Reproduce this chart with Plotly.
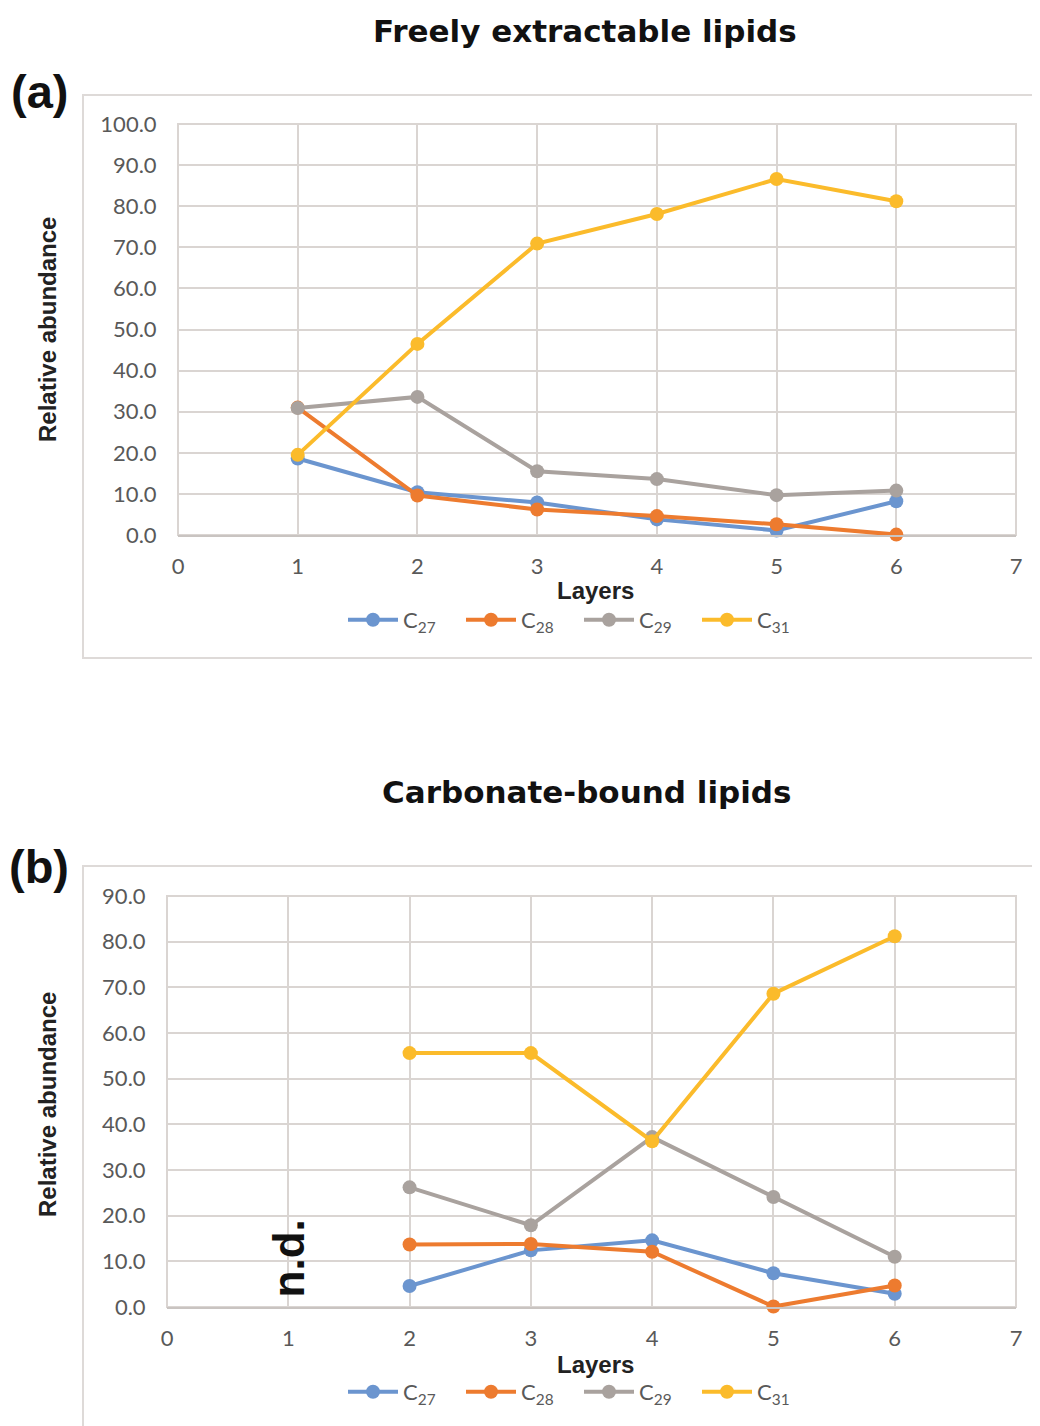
import plotly.graph_objects as go

W, H = 1040, 1426
OFF = 8  # page body margin

series_names = ["C<sub>27</sub>", "C<sub>28</sub>", "C<sub>29</sub>", "C<sub>31</sub>"]
colors = ["#6b95cf", "#ed7b2f", "#a9a29e", "#fbbb2b"]

layers_a = [1, 2, 3, 4, 5, 6]
c27_a = [18.6, 10.4, 7.9, 3.8, 1.1, 8.2]
c28_a = [31.0, 9.6, 6.2, 4.6, 2.6, 0.1]
c29_a = [30.9, 33.6, 15.5, 13.6, 9.7, 10.8]
c31_a = [19.5, 46.5, 70.9, 78.1, 86.6, 81.2]

layers_b = [2, 3, 4, 5, 6]
c27_b = [4.6, 12.4, 14.6, 7.4, 2.9]
c28_b = [13.7, 13.8, 12.1, 0.1, 4.7]
c29_b = [26.2, 17.9, 37.2, 24.1, 11.0]
c31_b = [55.6, 55.6, 36.3, 68.6, 81.2]

x_ticks = [0, 1, 2, 3, 4, 5, 6, 7]
y_ticks_a = [0, 10, 20, 30, 40, 50, 60, 70, 80, 90, 100]
y_ticks_b = [0, 10, 20, 30, 40, 50, 60, 70, 80, 90]


def px_x(p):
    return (p - OFF) / W


def px_y(p):
    return 1 - (p - OFF) / H


fig = go.Figure()

for name, col, ys in zip(series_names, colors, [c27_a, c28_a, c29_a, c31_a]):
    fig.add_trace(go.Scatter(
        x=layers_a, y=ys, name=name, mode="lines+markers",
        line=dict(color=col, width=4), marker=dict(color=col, size=14),
        xaxis="x", yaxis="y", legend="legend", cliponaxis=False))

for name, col, ys in zip(series_names, colors, [c27_b, c28_b, c29_b, c31_b]):
    fig.add_trace(go.Scatter(
        x=layers_b, y=ys, name=name, mode="lines+markers",
        line=dict(color=col, width=4), marker=dict(color=col, size=14),
        xaxis="x2", yaxis="y2", legend="legend2", cliponaxis=False))

grid = "#dad5d2"
tickfont = dict(family="Lato", size=22, color="#595959")

common_x = dict(
    tickvals=x_ticks, showgrid=True, gridcolor=grid, gridwidth=2,
    showline=True, linecolor="#c9c4c1", linewidth=2,
    ticks="outside", ticklen=11, tickcolor="rgba(0,0,0,0)",
    tickfont=tickfont, zeroline=False, fixedrange=True, range=[0, 7],
    automargin=False)
common_y = dict(
    showgrid=True, gridcolor=grid, gridwidth=2, showline=False,
    ticks="outside", ticklen=16, tickcolor="rgba(0,0,0,0)",
    tickfont=tickfont, zeroline=False, tickformat=".1f", fixedrange=True,
    automargin=False)

leg_common = dict(orientation="h", xanchor="center", yanchor="middle",
                  itemwidth=50, entrywidth=53,
                  font=dict(family="Lato", size=22, color="#595959"),
                  bgcolor="rgba(0,0,0,0)", itemclick=False)

fig.update_layout(
    width=W, height=H, autosize=False,
    margin=dict(l=0, r=0, t=0, b=0, pad=0, autoexpand=False),
    paper_bgcolor="white", plot_bgcolor="white",
    showlegend=True,
    xaxis=dict(domain=[px_x(178), px_x(1016)], anchor="y", **common_x),
    yaxis=dict(domain=[px_y(535), px_y(124)], anchor="x", range=[0, 100],
               tickvals=y_ticks_a, **common_y),
    xaxis2=dict(domain=[px_x(167), px_x(1016)], anchor="y2", **common_x),
    yaxis2=dict(domain=[px_y(1307), px_y(896)], anchor="x2", range=[0, 90],
                tickvals=y_ticks_b, **common_y),
    legend=dict(x=px_x(579), y=px_y(620), **leg_common),
    legend2=dict(x=px_x(579), y=px_y(1392), **leg_common),
)

# plot-area frames (left/top/right gridlines at range ends)
for xr, yr in [("x domain", "y domain"), ("x2 domain", "y2 domain")]:
    fig.add_shape(type="rect", xref=xr, yref=yr, x0=0, x1=1, y0=0, y1=1,
                  line=dict(color=grid, width=2), layer="below")

# chart-area borders (right edge lies outside the picture)
fig.add_shape(type="rect", xref="paper", yref="paper",
              x0=px_x(83), x1=px_x(1070), y0=px_y(658), y1=px_y(95),
              line=dict(color="#dedad8", width=2), layer="below")
fig.add_shape(type="rect", xref="paper", yref="paper",
              x0=px_x(83), x1=px_x(1070), y0=px_y(1450), y1=px_y(866),
              line=dict(color="#dedad8", width=2), layer="below")

title_font = dict(family="DejaVu Sans", size=31, color="#111111")
ann = [
    dict(text="<b>Freely extractable lipids</b>", x=px_x(585), y=px_y(31), font=title_font),
    dict(text="<b>Carbonate-bound lipids</b>", x=px_x(586), y=px_y(792), font=title_font),
    dict(text="<b>(a)</b>", x=px_x(39), y=px_y(91), font=dict(family="Liberation Sans", size=47, color="#111111")),
    dict(text="<b>(b)</b>", x=px_x(39), y=px_y(866), font=dict(family="Liberation Sans", size=47, color="#111111")),
    dict(text="<b>Layers</b>", x=px_x(595), y=px_y(590), font=dict(family="Liberation Sans", size=24, color="#222222")),
    dict(text="<b>Layers</b>", x=px_x(595), y=px_y(1364), font=dict(family="Liberation Sans", size=24, color="#222222")),
    dict(text="<b>Relative abundance</b>", x=px_x(47), y=px_y(330), textangle=-90,
         font=dict(family="Liberation Sans", size=24, color="#222222")),
    dict(text="<b>Relative abundance</b>", x=px_x(47), y=px_y(1105), textangle=-90,
         font=dict(family="Liberation Sans", size=24, color="#222222")),
]
for a in ann:
    fig.add_annotation(xref="paper", yref="paper", showarrow=False,
                       xanchor="center", yanchor="middle", **a)

fig.add_annotation(text="<b>n.d.</b>", xref="x2", yref="y2", x=1, y=10.7,
                   showarrow=False, textangle=-90, xanchor="center", yanchor="middle",
                   font=dict(family="Liberation Sans", size=44, color="#111111"))

fig.write_html("out.html")
